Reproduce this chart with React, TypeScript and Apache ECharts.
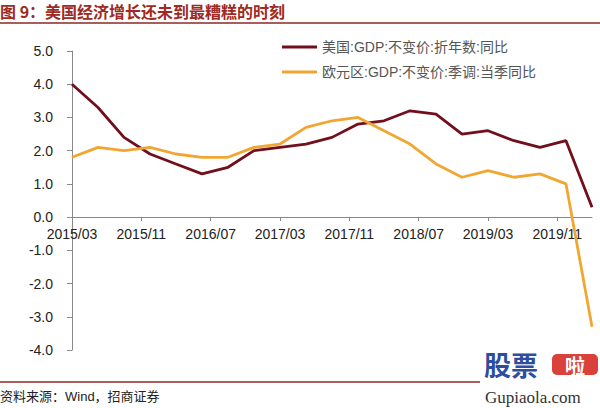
import React, { useEffect, useRef } from "react";
import * as echarts from "echarts";

const quarters = [
  "2015/03", "2015/06", "2015/09", "2015/12",
  "2016/03", "2016/06", "2016/09", "2016/12",
  "2017/03", "2017/06", "2017/09", "2017/12",
  "2018/03", "2018/06", "2018/09", "2018/12",
  "2019/03", "2019/06", "2019/09", "2019/12",
  "2020/03",
];
const usGdp = [4.0, 3.3, 2.4, 1.9, 1.6, 1.3, 1.5, 2.0, 2.1, 2.2, 2.4, 2.8, 2.9, 3.2, 3.1, 2.5, 2.6, 2.3, 2.1, 2.3, 0.3];
const euroGdp = [1.8, 2.1, 2.0, 2.1, 1.9, 1.8, 1.8, 2.1, 2.2, 2.7, 2.9, 3.0, 2.6, 2.2, 1.6, 1.2, 1.4, 1.2, 1.3, 1.0, -3.3];
const seriesNames = ["美国:GDP:不变价:折年数:同比", "欧元区:GDP:不变价:季调:当季同比"];
const titleText = "图 9：美国经济增长还未到最糟糕的时刻";
const sourceText = "资料来源：Wind，招商证券";

// monthly category axis from 2015/03 to 2020/03
const months: string[] = [];
for (let y = 2015, m = 3; y < 2020 || (y === 2020 && m <= 3); ) {
  months.push(`${y}/${String(m).padStart(2, "0")}`);
  m++;
  if (m > 12) { m = 1; y++; }
}

export default function App() {
  const ref = useRef<HTMLDivElement>(null);
  useEffect(() => {
    if (!ref.current) return;
    const chart = echarts.init(ref.current, null, { renderer: "svg" });
    const font = "'Liberation Sans', Arial, 'Noto Sans CJK SC', sans-serif";
    chart.setOption({
      animation: false,
      backgroundColor: "#ffffff",
      grid: { left: 72, right: 8, top: 51, bottom: 58, containLabel: false },
      legend: {
        orient: "vertical",
        left: 277,
        top: 35,
        itemWidth: 35,
        itemHeight: 3,
        itemGap: 11,
        icon: "rect",
        textStyle: { fontSize: 14, color: "#555", fontFamily: font },
        data: seriesNames,
      },
      xAxis: {
        type: "category",
        data: months,
        boundaryGap: false,
        offset: -133,
        axisLine: { onZero: false, lineStyle: { color: "#888", width: 1 } },
        axisTick: { show: true, interval: 7, length: 4, lineStyle: { color: "#888" } },
        axisLabel: { interval: 7, fontSize: 14, color: "#222", fontFamily: font, margin: 10 },
        splitLine: { show: false },
      },
      yAxis: {
        type: "value",
        min: -4,
        max: 5,
        interval: 1,
        axisLine: { show: true, lineStyle: { color: "#888", width: 1 } },
        axisTick: { show: true, length: 5, lineStyle: { color: "#888" } },
        axisLabel: {
          fontSize: 14,
          color: "#222",
          fontFamily: font,
          margin: 19,
          formatter: (v: number) => v.toFixed(1),
        },
        splitLine: { show: false },
      },
      series: [
        {
          name: seriesNames[0],
          type: "line",
          symbol: "none",
          data: quarters.map((q, i) => [q, usGdp[i]]),
          lineStyle: { color: "#720F1C", width: 2.8 },
          itemStyle: { color: "#720F1C" },
        },
        {
          name: seriesNames[1],
          type: "line",
          symbol: "none",
          data: quarters.map((q, i) => [q, euroGdp[i]]),
          lineStyle: { color: "#F2A632", width: 2.8 },
          itemStyle: { color: "#F2A632" },
        },
      ],
      graphic: [
        {
          type: "text",
          left: 0,
          top: 3,
          style: {
            text: titleText,
            fontSize: 16,
            fontWeight: "bold",
            fill: "#9E2A22",
            fontFamily: "'Noto Sans CJK SC', sans-serif",
          },
        },
        {
          type: "line",
          shape: { x1: 0, y1: 23, x2: 600, y2: 23 },
          style: { stroke: "#8B2A22", lineWidth: 1.5 },
        },
        {
          type: "line",
          shape: { x1: 0, y1: 382, x2: 480, y2: 382 },
          style: { stroke: "#8B2A22", lineWidth: 1.5 },
        },
        {
          type: "text",
          x: 0,
          y: 396,
          style: {
            text: sourceText,
            fontSize: 13,
            fill: "#222",
            verticalAlign: "middle",
            fontFamily: "'Liberation Sans', 'Noto Sans CJK SC', sans-serif",
          },
        },
        {
          type: "text",
          x: 484,
          y: 364,
          style: {
            text: "股票",
            fontSize: 27,
            fontWeight: "bold",
            fill: "#2D4E9E",
            verticalAlign: "middle",
            fontFamily: "'Noto Sans CJK SC', sans-serif",
          },
        },
        {
          type: "rect",
          shape: { x: 552, y: 354, width: 46, height: 21, r: 5 },
          style: { fill: "#D9413A" },
        },
        {
          type: "text",
          x: 575,
          y: 365,
          style: {
            text: "啦",
            fontSize: 20,
            fontWeight: "bold",
            fill: "#ffffff",
            align: "center",
            verticalAlign: "middle",
            fontFamily: "'Noto Sans CJK SC', sans-serif",
          },
        },
        {
          type: "text",
          x: 485,
          y: 397,
          style: {
            text: "Gupiaola.com",
            fontSize: 17,
            fill: "#333",
            verticalAlign: "middle",
            fontFamily: "'Liberation Serif', 'DejaVu Serif', serif",
          },
        },
      ],
    });
    return () => chart.dispose();
  }, []);
  return (
    <div
      ref={ref}
      style={{ position: "fixed", left: 0, top: 0, width: 600, height: 408, background: "#fff" }}
    />
  );
}
